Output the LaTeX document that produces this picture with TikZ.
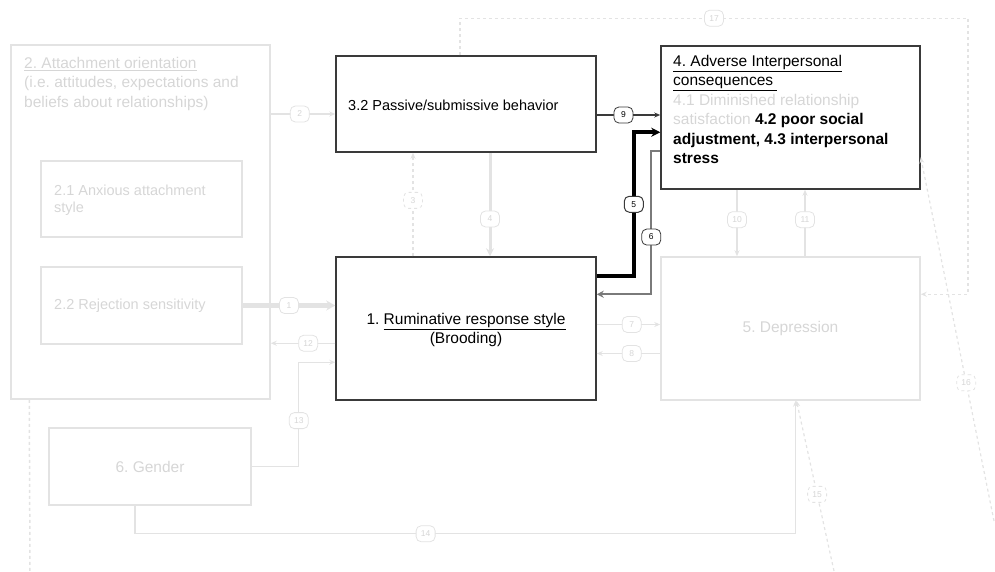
\documentclass[tikz,border=0pt]{standalone}
\usepackage{fontspec}
\setmainfont{Liberation Sans}
\frenchspacing
\usetikzlibrary{arrows.meta,calc}
\definecolor{lite}{HTML}{E3E3E3}
\definecolor{litetext}{HTML}{D6D6D6}
\definecolor{darkb}{HTML}{3A3A3A}
\definecolor{midg}{HTML}{7A7A7A}
\begin{document}
\begin{tikzpicture}[x=1pt,y=-1pt,
  box/.style={draw, line width=1.5pt, inner sep=0pt},
  litebox/.style={box, draw=lite},
  darkbox/.style={box, draw=darkb},
  txt/.style={inner sep=0pt, font=\fontsize{15.5}{19.5}\selectfont},
  smalltxt/.style={inner sep=0pt, font=\fontsize{14.5}{17}\selectfont},
  lbl/.style={draw, fill=white, rounded corners=5pt, minimum width=19pt, minimum height=16pt, inner sep=0pt, line width=0.8pt, font=\fontsize{8.5}{8.5}\selectfont},
  litelbl/.style={lbl, draw=lite, text=litetext},
  darklbl/.style={lbl, draw=darkb, text=black},
  tip/.style={-{Stealth[length=6pt,width=5pt]}},
  liteln/.style={draw=lite, line width=1.2pt, tip},
  litedash/.style={draw=lite, line width=1.5pt, dash pattern=on 3pt off 3pt},
]
\useasboundingbox (0,0) rectangle (995,571);

% boxes
\node[litebox, minimum width=259pt, minimum height=354pt] (b2) at (140.5,222) {};
\node[litebox, minimum width=201pt, minimum height=76pt] (b21) at (141.5,199) {};
\node[litebox, minimum width=201pt, minimum height=77pt] (b22) at (141.5,305.5) {};
\node[darkbox, minimum width=260pt, minimum height=96pt] (b32) at (466,104) {};
\node[darkbox, minimum width=260pt, minimum height=143pt] (b1) at (466,328.5) {};
\node[darkbox, minimum width=259pt, minimum height=143pt] (b4) at (790.5,117.5) {};
\node[litebox, minimum width=259pt, minimum height=143pt] (b5) at (790.5,328.5) {};
\node[litebox, minimum width=202pt, minimum height=77pt] (b6) at (150,466.5) {};

% texts
\node[txt, text=litetext, anchor=north west, align=left] (t2) at (24,57)
  {\underline{2. Attachment orientation}\\(i.e. attitudes, expectations and\\beliefs about relationships)};
\node[smalltxt, text=litetext, anchor=north west, align=left] (t21) at (54,185)
  {2.1 Anxious attachment\\style};
\node[smalltxt, text=litetext, anchor=west] (t22) at (54,306) {2.2 Rejection sensitivity};
\node[smalltxt, text=black, anchor=west] (t32) at (348,105) {3.2 Passive/submissive behavior};
\node[txt, text=black, align=center] (t1) at (466,330)
  {1. \underline{Ruminative response style}\\(Brooding)};
\node[txt, anchor=north west, align=left] (t4) at (673,55)
  {\underline{4. Adverse Interpersonal}\\\underline{consequences\ }\\
   \textcolor{litetext}{4.1 Diminished relationship}\\
   \textcolor{litetext}{satisfaction} \textbf{4.2 poor social}\\
   \textbf{adjustment, 4.3 interpersonal}\\\textbf{stress}};
\node[txt, text=litetext] (t5) at (b5.center) {5. Depression};
\node[txt, text=litetext] (t6) at (b6.center) {6. Gender};

% free ends
\coordinate (e15) at (834,571);
\coordinate (e16) at (994,521);
\coordinate (e18) at (30,571);

% connectors
\coordinate (p2) at ([yshift=-10pt]b32.west);
\draw[liteln] (b2.east |- p2) -- node[litelbl, pos=0.45] {2} (p2);

\coordinate (p9) at ([yshift=-11pt]b32.east);
\draw[draw=darkb, line width=1.2pt, tip] (p9) -- node[darklbl, pos=0.42] {9} (p9 -| b4.west);

\draw[draw=black, line width=4pt, -{Stealth[length=9pt,width=9pt]}]
  ([yshift=-20pt]b1.north east) -- ++(37,0) |- node[darklbl, pos=0.25, line width=1pt] {5} ([yshift=-87pt]b4.north west);

\draw[draw=midg, line width=2pt, -{Stealth[length=7pt,width=7pt]}]
  ([yshift=-106pt]b4.north west) -- ++(-9,0) |- node[darklbl, pos=0.3] {6} ([yshift=-38pt]b1.north east);

\draw[liteln, dashed] ([xshift=-53pt]b1.north) -- node[litelbl, pos=0.54] {3} ([xshift=-53pt]b32.south);
\draw[draw=lite, line width=3pt, -{Stealth[length=8pt,width=8pt]}] ([xshift=24pt]b32.south) -- node[litelbl, pos=0.64] {4} ([xshift=24pt]b1.north);

\draw[draw=lite, line width=4.5pt, -{Stealth[length=9pt,width=10pt]}] (b22.east) -- node[litelbl, pos=0.5] {1} (b22.east -| b1.west);

\coordinate (p12) at ([yshift=-87pt]b1.north west);
\draw[liteln] (p12) -- node[litelbl, pos=0.42] {12} (p12 -| b2.east);

\draw[liteln] (b6.east) -- ++(47,0) |- node[litelbl, pos=0.22] {13} ([yshift=-106pt]b1.north west);

\coordinate (p7) at ([yshift=4pt]b1.east);
\draw[liteln] (p7) -- node[litelbl, pos=0.55] {7} (p7 -| b5.west);
\coordinate (p8) at ([yshift=-25pt]b5.west);
\draw[liteln] (p8) -- node[litelbl, pos=0.45] {8} (p8 -| b1.east);

\draw[liteln] ([xshift=-53.5pt]b4.south) -- node[litelbl, pos=0.45] {10} ([xshift=-53.5pt]b5.north);
\draw[liteln] ([xshift=14.5pt]b5.north) -- node[litelbl, pos=0.55] {11} ([xshift=14.5pt]b4.south);

\draw[liteln] ([xshift=-15pt]b6.south) -- ++(0,28) -| node[litelbl, pos=0.22] {14} ([xshift=5pt]b5.south);

\draw[liteln, dashed] (e15) -- node[litelbl, pos=0.45] {15} ([xshift=6pt]b5.south);
\draw[liteln, dashed] (e16) -- node[litelbl, pos=0.38] {16} ([yshift=-112pt]b4.north east);

\draw[litedash, tip] ([xshift=-6pt]b32.north) -- ++(0,-37) -- node[litelbl, solid] {17} ++(508,0) |- ([yshift=-38pt]b5.north east);

\draw[litedash] ([xshift=19pt]b2.south west) -- (e18);
\end{tikzpicture}
\end{document}
